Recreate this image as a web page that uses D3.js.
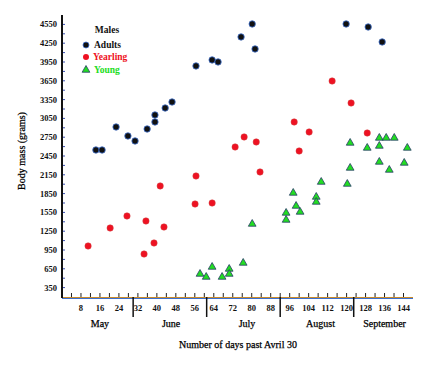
<!DOCTYPE html>
<html>
<head>
<meta charset="utf-8">
<script src="https://cdn.jsdelivr.net/npm/d3@7"></script>
<style>
  body { margin: 0; background: #fff; }
  text { font-family: "Liberation Serif", "DejaVu Serif", serif; }
</style>
</head>
<body>
<svg id="chart" width="443" height="370"></svg>
<script>
// days past April 30, body mass in grams
const adultDays = [14.3, 16.9, 22.8, 27.8, 30.8, 35.9, 39.2, 39.2, 43.5, 46.4, 56.5, 63.3, 65.8, 75.5, 80.2, 81.4, 119.8, 129.1, 135.0];
const adultMass = [2546, 2546, 2913, 2770, 2690, 2881, 3105, 2993, 3216, 3312, 3887, 3983, 3951, 4350, 4557, 4158, 4557, 4509, 4270];

const yearlingDays = [11.0, 20.3, 27.4, 35.4, 34.6, 38.8, 43.0, 41.4, 56.1, 63.3, 56.5, 73.0, 76.8, 81.9, 83.5, 97.9, 100.0, 104.2, 113.9, 121.9, 128.7];
const yearlingMass = [1014, 1301, 1493, 1413, 886, 1062, 1317, 1972, 1684, 1700, 2131, 2594, 2754, 2674, 2195, 2993, 2530, 2833, 3647, 3296, 2817];

const youngDays = [58.2, 60.8, 63.3, 67.5, 70.5, 70.5, 76.4, 80.2, 94.5, 94.5, 97.5, 98.7, 100.4, 107.2, 107.2, 109.3, 120.3, 121.5, 121.5, 128.7, 133.8, 133.8, 136.7, 140.1, 145.6, 133.8, 138.0, 144.3];
const youngMass = [567, 519, 679, 519, 647, 567, 743, 1365, 1541, 1429, 1860, 1652, 1557, 1796, 1716, 2035, 2003, 2658, 2259, 2578, 2738, 2610, 2738, 2738, 2578, 2355, 2227, 2339];

const xTickLabels = [8, 16, 24, 32, 40, 48, 56, 64, 72, 80, 88, 96, 104, 112, 120, 128, 136, 144];
const yTickLabels = [350, 650, 950, 1250, 1550, 1850, 2150, 2450, 2750, 3050, 3350, 3650, 3950, 4250, 4550];
const monthNames = ["May", "June", "July", "August", "September"];
const monthCenters = [16, 46, 78, 109, 136];
const monthBreaks = [30, 61, 92, 123];

const svg = d3.select('#chart');
const plotL = 62, plotR = 413, plotT = 15, plotB = 297;

const x = d3.scaleLinear().domain([0, 148]).range([plotL, plotR]);
const y = d3.scaleLinear().domain([200, 4700]).range([plotB, plotT]);

// minor ticks
svg.append('g')
  .selectAll('line')
  .data(d3.range(4, 148, 4))
  .join('line')
  .attr('x1', d => x(d)).attr('x2', d => x(d))
  .attr('y1', plotB).attr('y2', plotB - 4)
  .attr('stroke', '#222').attr('stroke-width', 1);

svg.append('g')
  .selectAll('line')
  .data(d3.range(350, 4700, 150))
  .join('line')
  .attr('x1', plotL).attr('x2', plotL + 3)
  .attr('y1', d => y(d)).attr('y2', d => y(d))
  .attr('stroke', '#3a4fb0').attr('stroke-width', 1);

// axis lines
svg.append('line')
  .attr('x1', plotL).attr('x2', plotR).attr('y1', plotB + 0.5).attr('y2', plotB + 0.5)
  .attr('stroke', '#c98a2a').attr('stroke-width', 1);
svg.append('line')
  .attr('x1', plotL).attr('x2', plotR).attr('y1', plotB + 1.5).attr('y2', plotB + 1.5)
  .attr('stroke', '#3b6fd0').attr('stroke-width', 1);
svg.append('line')
  .attr('x1', plotL).attr('x2', plotL).attr('y1', plotT).attr('y2', plotB + 1)
  .attr('stroke', '#111').attr('stroke-width', 2);

// month separators
svg.append('g')
  .selectAll('line')
  .data(monthBreaks)
  .join('line')
  .attr('x1', d => x(d)).attr('x2', d => x(d))
  .attr('y1', plotB).attr('y2', plotB + 20)
  .attr('stroke', '#111').attr('stroke-width', 1.5);

// tick labels
svg.append('g')
  .selectAll('text')
  .data(xTickLabels)
  .join('text')
  .attr('x', d => x(d))
  .attr('y', 311)
  .attr('text-anchor', 'middle')
  .attr('font-size', 8.5)
  .attr('font-weight', 'bold')
  .attr('fill', '#111')
  .text(d => d);

svg.append('g')
  .selectAll('text')
  .data(yTickLabels)
  .join('text')
  .attr('x', 57)
  .attr('y', d => y(d) + 3)
  .attr('text-anchor', 'end')
  .attr('font-size', 8.5)
  .attr('font-weight', 'bold')
  .attr('fill', '#111')
  .text(d => d);

svg.append('g')
  .selectAll('text')
  .data(monthNames)
  .join('text')
  .attr('x', (d, i) => x(monthCenters[i]))
  .attr('y', 327)
  .attr('text-anchor', 'middle')
  .attr('font-size', 10)
  .attr('fill', '#000')
  .attr('stroke', '#000').attr('stroke-width', 0.25)
  .text(d => d);

svg.append('text')
  .attr('x', 238).attr('y', 348)
  .attr('text-anchor', 'middle')
  .attr('font-size', 10)
  .attr('fill', '#000')
  .attr('stroke', '#000').attr('stroke-width', 0.25)
  .text('Number of days past Avril 30');

svg.append('text')
  .attr('transform', 'translate(25,151) rotate(-90)')
  .attr('text-anchor', 'middle')
  .attr('font-size', 10)
  .attr('fill', '#000')
  .attr('stroke', '#000').attr('stroke-width', 0.25)
  .text('Body mass (grams)');

// points
const tri = d3.symbol().type(d3.symbolTriangle).size(26);

svg.append('g')
  .selectAll('path')
  .data(youngDays)
  .join('path')
  .attr('transform', (d, i) => `translate(${x(d)},${y(youngMass[i])})`)
  .attr('d', tri)
  .attr('fill', '#22dd22')
  .attr('stroke', '#2a3a6a')
  .attr('stroke-width', 0.8);

svg.append('g')
  .selectAll('circle')
  .data(yearlingDays)
  .join('circle')
  .attr('cx', d => x(d))
  .attr('cy', (d, i) => y(yearlingMass[i]))
  .attr('r', 3.2)
  .attr('fill', '#ee1122')
  .attr('stroke', '#d04040')
  .attr('stroke-width', 0.5);

svg.append('g')
  .selectAll('circle')
  .data(adultDays)
  .join('circle')
  .attr('cx', d => x(d))
  .attr('cy', (d, i) => y(adultMass[i]))
  .attr('r', 3.2)
  .attr('fill', '#111')
  .attr('stroke', '#3b6fd0')
  .attr('stroke-width', 0.8);

// legend
const legend = svg.append('g');
legend.append('text').attr('x', 107).attr('y', 33).attr('text-anchor', 'middle')
  .attr('font-size', 9.5).attr('font-weight', 'bold').attr('fill', '#111').text('Males');
legend.append('circle').attr('cx', 86).attr('cy', 45).attr('r', 3)
  .attr('fill', '#111').attr('stroke', '#3b6fd0').attr('stroke-width', 0.8);
legend.append('text').attr('x', 94).attr('y', 48).attr('font-size', 9.5).attr('font-weight', 'bold')
  .attr('fill', '#111').text('Adults');
legend.append('circle').attr('cx', 86).attr('cy', 57).attr('r', 3)
  .attr('fill', '#ee1122');
legend.append('text').attr('x', 93).attr('y', 60).attr('font-size', 9.5).attr('font-weight', 'bold')
  .attr('fill', '#ee1122').text('Yearling');
legend.append('path').attr('transform', 'translate(86,70)').attr('d', tri)
  .attr('fill', '#22dd22').attr('stroke', '#2a3a6a').attr('stroke-width', 0.8);
legend.append('text').attr('x', 94).attr('y', 73).attr('font-size', 9.5).attr('font-weight', 'bold')
  .attr('fill', '#22dd22').text('Young');
</script>
</body>
</html>
